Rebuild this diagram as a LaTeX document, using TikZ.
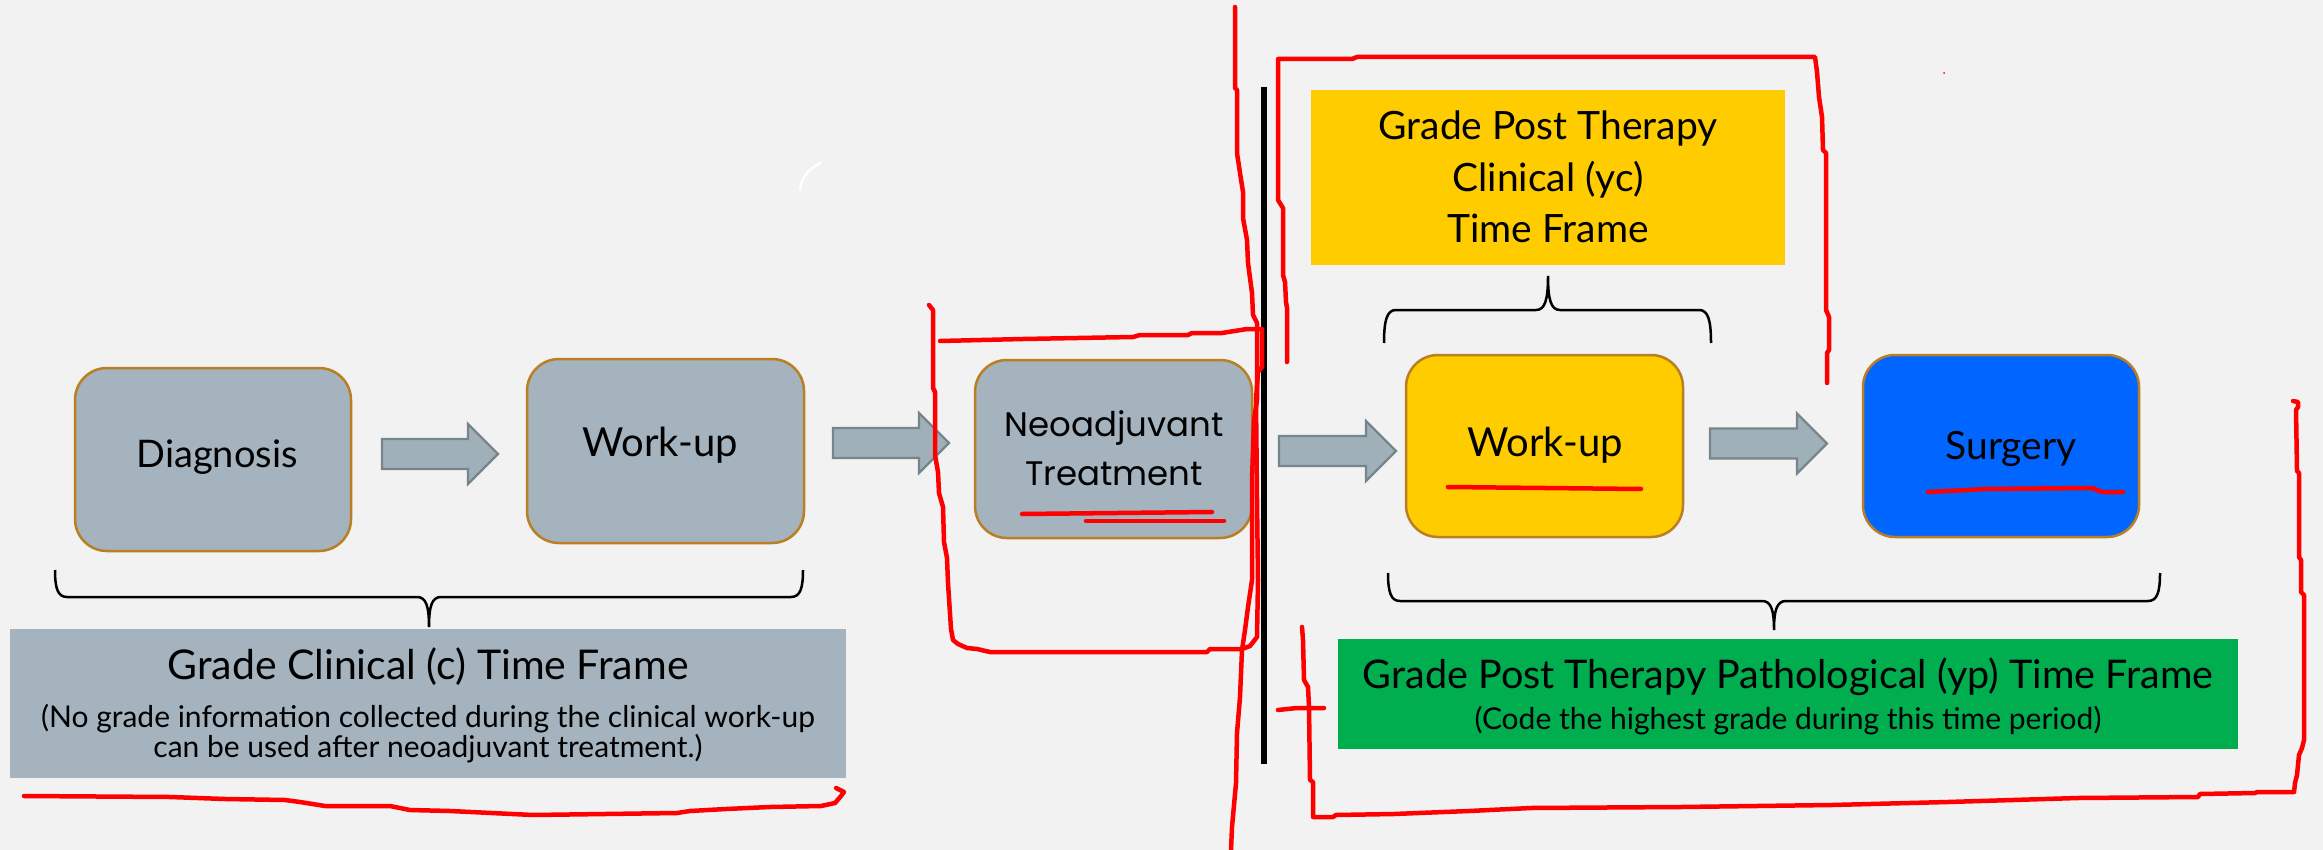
\documentclass[tikz,border=0pt]{standalone}
\usepackage{fontspec}
\setmainfont{Lato}
\newfontfamily\neofont{Poppins}
\definecolor{bg}{HTML}{F2F2F2}
\definecolor{greybox}{HTML}{A4B3BD}
\definecolor{boxedge}{HTML}{B97F22}
\definecolor{arrowfill}{HTML}{A0B0B8}
\definecolor{arrowedge}{HTML}{76858B}
\definecolor{gold}{HTML}{FFCC00}
\definecolor{bluebox}{HTML}{0066FF}
\definecolor{greenbox}{HTML}{00AD4F}
\definecolor{pen}{HTML}{FF0000}
\newcommand\blockarrow[3]{%
  \draw[barrow] (#1,#3-15) -- (#2,#3-15) -- (#2,#3-30) -- (#2+30,#3) -- (#2,#3+30) -- (#2,#3+15) -- (#1,#3+15) -- cycle;}
\newcommand\curlybrace[6]{%
  \draw[cbrace] (#1,#3) .. controls (#1,{#4-0.3*(#4-#3)}) and ({#1+3},#4) .. ({#1+12},#4)
    -- ({#5-12},#4) .. controls ({#5-3},#4) and (#5,{#4+0.3*(#6-#4)}) .. (#5,#6)
    .. controls (#5,{#4+0.3*(#6-#4)}) and ({#5+3},#4) .. ({#5+12},#4)
    -- ({#2-12},#4) .. controls ({#2-3},#4) and (#2,{#4-0.3*(#4-#3)}) .. (#2,#3);}
\begin{document}
\begin{tikzpicture}[x=1pt,y=-1pt,
  box/.style={draw=boxedge, line width=2.5pt, rounded corners=32pt, inner sep=0pt},
  panel/.style={inner sep=0pt},
  lbl/.style={anchor=base, inner sep=0pt, font=\fontsize{38}{44}\selectfont},
  title/.style={anchor=base, inner sep=0pt, font=\fontsize{41}{48}\selectfont},
  sub/.style={anchor=base, inner sep=0pt, font=\fontsize{30}{36}\selectfont},
  barrow/.style={fill=arrowfill, draw=arrowedge, line width=2.2pt, line join=miter},
  cbrace/.style={draw=black, line width=2.5pt},
  ink/.style={draw=pen, line width=4.5pt, line cap=round, line join=round}]
\fill[bg] (0,0) rectangle (2323,850);
\useasboundingbox (0,0) rectangle (2323,850);

% boxes
\node[box, fill=greybox, minimum width=276pt, minimum height=183pt] (diag) at (213,459.5) {};
\node[box, fill=greybox, minimum width=277pt, minimum height=184pt] (wu1) at (665.5,451) {};
\node[box, fill=greybox, minimum width=277pt, minimum height=178pt] (neo) at (1113.5,449) {};
\node[box, fill=gold, minimum width=277pt, minimum height=182pt] (wu2) at (1544.5,446) {};
\node[box, fill=bluebox, minimum width=276pt, minimum height=182pt] (surg) at (2001,446) {};

\node[lbl] (tdiag) at (217,467) {Diagnosis};
\node[lbl, font=\fontsize{40}{46}\selectfont] (twu1) at (660,456) {Work-up};
\node[lbl, font=\neofont\fontsize{34}{40}\selectfont] (tneo1) at (1114,436) {Neoadjuvant};
\node[lbl, font=\neofont\fontsize{34}{40}\selectfont] (tneo2) at (1114,485) {Treatment};
\node[lbl, font=\fontsize{40}{46}\selectfont] (twu2) at (1545,456) {Work-up};
\node[lbl, font=\fontsize{39}{45}\selectfont] (tsurg) at (2011,459) {Surgery};

% block arrows
\blockarrow{382}{468}{454}
\blockarrow{833}{919}{443}
\blockarrow{1279}{1366}{451}
\blockarrow{1710}{1797}{443.5}

% panels
\node[panel, fill=greybox, minimum width=836pt, minimum height=149pt] (clin) at (428,703.5) {};
\node[title] (clint) at (428,679) {Grade Clinical (c) Time Frame};
\node[sub] (clins1) at (428,727) {(No grade information collected during the clinical work-up};
\node[sub] (clins2) at (428,757) {can be used after neoadjuvant treatment.)};

\node[panel, fill=gold, minimum width=474pt, minimum height=175pt] (yc) at (1548,177.5) {};
\node[title, font=\fontsize{39}{46}\selectfont] (yc1) at (1548,140) {Grade Post Therapy};
\node[title, font=\fontsize{39}{46}\selectfont] (yc2) at (1548,192) {Clinical (yc)};
\node[title, font=\fontsize{39}{46}\selectfont] (yc3) at (1548,243) {Time Frame};

\node[panel, fill=greenbox, minimum width=900pt, minimum height=110pt] (yp) at (1788,694) {};
\node[title, font=\fontsize{39.5}{46}\selectfont] (yp1) at (1788,688) {Grade Post Therapy Pathological (yp) Time Frame};
\node[sub] (yp2) at (1788,729) {(Code the highest grade during this time period)};

% braces
\curlybrace{55}{803}{570}{597}{429}{627}
\curlybrace{1384}{1711}{343}{310}{1548}{276}
\curlybrace{1388}{2160}{573}{601}{1774}{630}

% divider
\draw[line width=6pt] (1264,87) -- (1264,764);

% red pen annotations
\draw[ink] (24,796) -- (170,797) -- (225,799) -- (285,800) -- (300,802) -- (325,806) -- (390,806) -- (410,810) -- (450,811) -- (533,815) -- (677,813) -- (690,811) -- (726,809) -- (770,807) -- (821,806) -- (835,803) -- (841,796) -- (844,792) -- (836,788);
\draw[ink] (929,305) -- (933,310) -- (933,388) -- (935,392) -- (935,455) -- (938,472) -- (939,493) -- (943,507) -- (944,542) -- (947,558) -- (948,583) -- (951,629) -- (953,640) -- (958,644) -- (967,648) -- (977,649) -- (990,652) -- (1207,652) -- (1210,649) -- (1242,649);
\draw[ink] (940,341) -- (1023,339) -- (1133,337) -- (1140,335) -- (1188,335) -- (1192,333) -- (1222,333) -- (1247,329) -- (1262,329) -- (1262,367) -- (1258,372) -- (1256,400) -- (1257,500) -- (1258,580) -- (1257,637) -- (1250,646) -- (1242,649);
\draw[ink] (1235,7) -- (1235,88) -- (1237,90) -- (1237,153) -- (1240,173) -- (1243,192) -- (1243,218) -- (1247,240) -- (1248,263) -- (1252,293) -- (1253,315) -- (1257,323) -- (1257,400) -- (1254,420) -- (1252,480) -- (1252,580) -- (1248,607) -- (1245,630) -- (1242,650) -- (1240,697) -- (1237,733) -- (1236,783) -- (1232,827) -- (1231,850);
\draw[ink] (1022,514) -- (1212,512);
\draw[ink] (1086,521) -- (1224,521);
\draw[ink] (1287,362) -- (1287,308) -- (1286,302) -- (1285,282) -- (1283,275) -- (1283,208) -- (1278,200) -- (1278,59) -- (1352,59) -- (1357,57) -- (1815,57) -- (1817,72) -- (1819,97) -- (1822,117) -- (1823,150) -- (1826,153) -- (1826,310) -- (1829,317) -- (1829,350) -- (1827,353) -- (1827,383);
\draw[ink] (1448,487) -- (1545,488) -- (1641,489);
\draw[ink] (1928,492) -- (1986,489) -- (2092,488) -- (2102,492) -- (2123,492);
\draw[ink] (1302,627) -- (1303,640) -- (1304,680) -- (1308,687) -- (1309,707) -- (1310,780) -- (1313,782) -- (1313,817) -- (1333,817) -- (1336,815) -- (1394,814) -- (1469,811) -- (1531,808) -- (1681,807) -- (1832,805) -- (1948,802) -- (2078,798) -- (2198,797) -- (2200,794) -- (2255,793) -- (2257,792) -- (2294,792) -- (2295,783) -- (2297,775) -- (2299,755) -- (2302,748) -- (2304,740) -- (2304,595) -- (2301,592) -- (2301,560) -- (2299,557) -- (2299,473) -- (2297,471) -- (2296,410) -- (2298,407) -- (2298,402) -- (2293,401);
\draw[ink] (1278,710) -- (1297,708) -- (1324,708);
\fill[pen] (1944,73) circle (1pt);
\draw[white, line width=2.5pt, line cap=round] (800,190) .. controls (802,176) and (808,170) .. (820,163);
\end{tikzpicture}
\end{document}
